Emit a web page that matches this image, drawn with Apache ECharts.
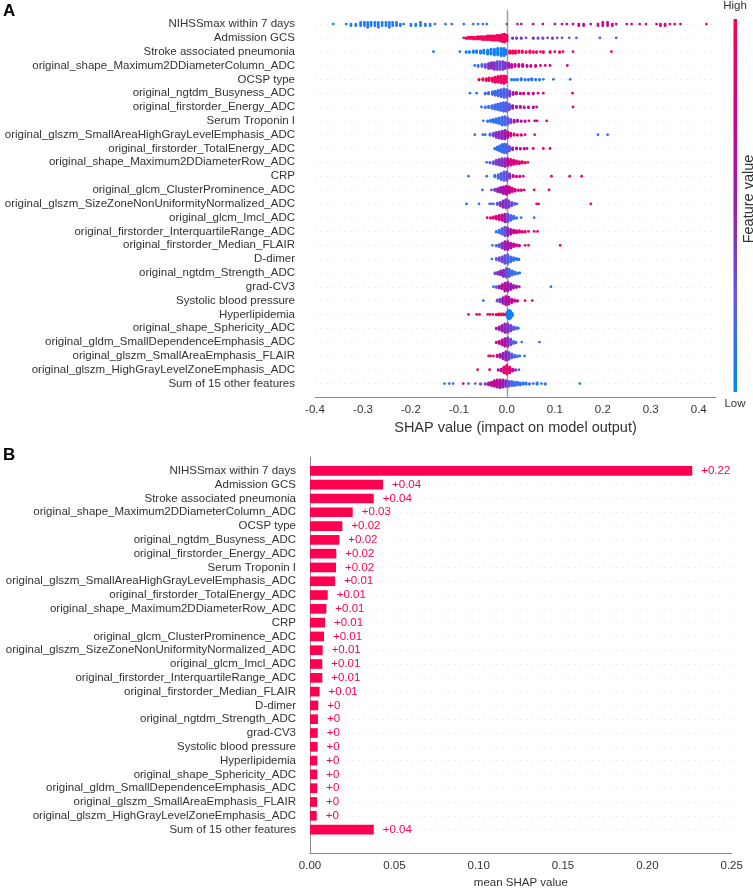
<!DOCTYPE html>
<html><head><meta charset="utf-8">
<script src="https://cdn.jsdelivr.net/npm/echarts@6/dist/echarts.min.js"></script>
<style>html,body{margin:0;padding:0;background:#fff}#c{width:753px;height:890px}</style>
</head><body><div id="c"></div>
<script>
const FONT = "'Liberation Sans', Arial, sans-serif";
const features = [
  "NIHSSmax within 7 days","Admission GCS","Stroke associated pneumonia",
  "original_shape_Maximum2DDiameterColumn_ADC","OCSP type","original_ngtdm_Busyness_ADC",
  "original_firstorder_Energy_ADC","Serum Troponin I","original_glszm_SmallAreaHighGrayLevelEmphasis_ADC",
  "original_firstorder_TotalEnergy_ADC","original_shape_Maximum2DDiameterRow_ADC","CRP",
  "original_glcm_ClusterProminence_ADC","original_glszm_SizeZoneNonUniformityNormalized_ADC","original_glcm_Imcl_ADC",
  "original_firstorder_InterquartileRange_ADC","original_firstorder_Median_FLAIR","D-dimer",
  "original_ngtdm_Strength_ADC","grad-CV3","Systolic blood pressure","Hyperlipidemia",
  "original_shape_Sphericity_ADC","original_gldm_SmallDependenceEmphasis_ADC","original_glszm_SmallAreaEmphasis_FLAIR",
  "original_glszm_HighGrayLevelZoneEmphasis_ADC","Sum of 15 other features"
];
// Panel B: mean |SHAP| values and their printed labels
const barValues = [0.2266,0.0433,0.0378,0.0253,0.0192,0.0174,0.0156,0.0154,0.0149,0.0105,0.0097,0.0089,0.0083,
  0.0075,0.0073,0.0073,0.0057,0.0049,0.0047,0.0046,0.0045,0.0043,0.0043,0.0043,0.0042,0.0040,0.0378];
const barLabels = ["+0.22","+0.04","+0.04","+0.03","+0.02","+0.02","+0.02","+0.02","+0.01","+0.01","+0.01","+0.01","+0.01",
  "+0.01","+0.01","+0.01","+0.01","+0","+0","+0","+0","+0","+0","+0","+0","+0","+0.04"];
const colorStops = ['#008bfb','#5f5ae6','#9a1bb4','#d2008c','#ff0051'];

// Panel A beeswarm: each entry [SHAP value, number of samples at that value, feature value 0(low)..1(high)]
const r0 = [[-0.362,1,.05],[-0.335,1,.05],[-0.325,2,.05],[-0.315,2,.1],[-0.305,3,.05],[-0.297,3,.1],[-0.29,4,.05],[-0.283,3,.1],
  [-0.275,3,.05],[-0.268,4,.1],[-0.26,3,.05],[-0.252,3,.1],[-0.245,4,.05],[-0.238,3,.1],[-0.23,3,.1],[-0.222,2,.05],[-0.215,1,.1],
  [-0.2,2,.1],[-0.19,2,.05],[-0.18,3,.1],[-0.17,2,.1],[-0.16,2,.1],[-0.15,1,.1],[-0.128,1,.1],[-0.115,1,.15],[-0.09,1,.1],
  [-0.07,1,.15],[-0.06,1,.1],[-0.05,1,.15],[-0.042,1,.15],[0.0,1,.3],[0.022,1,.6],[0.03,1,.6],[0.055,1,.55],[0.075,1,.6],
  [0.1,1,.65],[0.115,1,.7],[0.125,1,.7],[0.138,1,.7],[0.15,2,.75],[0.16,2,.75],[0.175,1,.8],[0.19,2,.7],[0.2,3,.75],[0.21,3,.7],
  [0.22,2,.8],[0.228,1,.8],[0.25,1,.85],[0.26,1,.85],[0.277,1,.85],[0.29,1,.85],[0.312,1,.85],[0.32,2,.9],[0.33,2,.8],
  [0.34,1,.85],[0.35,1,.9],[0.362,1,.9],[0.416,1,.95]];
const r1 = [[-0.09,1,.95],[-0.085,2,.95],[-0.08,3,.95],[-0.075,3,.95],[-0.07,4,.95],[-0.065,4,.95],[-0.06,5,.95],[-0.055,5,.95],
  [-0.05,6,.95],[-0.045,6,.95],[-0.04,7,.95],[-0.035,7,.95],[-0.03,8,.95],[-0.025,8,.95],[-0.02,9,.95],[-0.015,10,.95],
  [-0.01,12,.95],[-0.005,14,.9],[0.0,10,.9],[0.012,2,.45],[0.02,2,.4],[0.03,2,.4],[0.04,1,.35],[0.055,2,.4],[0.065,2,.3],
  [0.075,2,.35],[0.085,1,.3],[0.095,2,.35],[0.105,1,.3],[0.115,1,.3],[0.13,1,.25],[0.145,1,.3],[0.194,1,.3],[0.228,1,.35]];
const r2 = [[-0.153,1,.05],[-0.098,1,.05],[-0.085,2,.05],[-0.078,2,.05],[-0.07,3,.05],[-0.063,3,.05],[-0.055,4,.05],
  [-0.048,5,.05],[-0.04,6,.05],[-0.033,7,.05],[-0.026,8,.05],[-0.019,9,.05],[-0.012,10,.05],[-0.006,10,.05],[-0.002,6,.1],
  [0.006,4,.95],[0.012,4,.95],[0.018,4,.95],[0.025,3,.95],[0.032,3,.95],[0.04,2,.95],[0.048,3,.95],[0.055,2,.95],
  [0.062,2,.95],[0.07,1,.95],[0.076,2,.95],[0.09,2,.95],[0.1,1,.95],[0.11,2,.95],[0.117,1,.95],[0.138,1,.95],[0.218,1,.95]];
const r3 = [[-0.067,1,.1],[-0.06,2,.15],[-0.052,3,.2],[-0.045,4,.3],[-0.038,6,.4],[-0.032,7,.45],[-0.026,8,.4],[-0.02,9,.35],
  [-0.014,9,.3],[-0.008,9,.35],[-0.003,7,.4],[0.004,5,.6],[0.01,4,.65],[0.017,3,.7],[0.025,3,.7],[0.033,3,.75],[0.042,2,.7],
  [0.05,2,.75],[0.06,2,.7],[0.07,1,.8],[0.08,1,.75],[0.09,1,.8],[0.126,1,.85]];
const r4 = [[-0.058,2,.95],[-0.05,3,.95],[-0.043,4,.95],[-0.037,5,.95],[-0.03,6,.9],[-0.024,8,.95],[-0.018,9,.95],[-0.012,11,.95],
  [-0.006,12,.9],[-0.002,9,.9],[0.01,2,.1],[0.016,2,.1],[0.022,2,.1],[0.03,3,.1],[0.038,2,.1],[0.045,2,.1],[0.052,3,.1],
  [0.06,2,.1],[0.068,2,.1],[0.076,1,.1],[0.097,1,.1],[0.132,1,.1]];
const r5 = [[-0.077,1,.1],[-0.063,1,.1],[-0.045,2,.15],[-0.038,3,.2],[-0.03,5,.15],[-0.024,7,.2],[-0.018,9,.15],[-0.012,11,.2],
  [-0.006,13,.2],[0.0,12,.25],[0.006,8,.35],[0.013,4,.6],[0.02,3,.7],[0.028,2,.75],[0.035,2,.8],[0.045,2,.8],[0.055,2,.75],
  [0.065,1,.8],[0.076,1,.85],[0.137,1,.9]];
const r6 = [[-0.053,1,.1],[-0.045,2,.1],[-0.038,3,.15],[-0.031,5,.15],[-0.025,7,.2],[-0.019,9,.15],[-0.013,11,.2],[-0.007,13,.2],
  [-0.001,13,.25],[0.005,9,.3],[0.012,5,.55],[0.02,3,.6],[0.028,3,.65],[0.036,2,.7],[0.045,2,.65],[0.055,2,.7],[0.062,1,.75],
  [0.138,1,.85]];
const r7 = [[-0.049,1,.1],[-0.04,2,.1],[-0.034,3,.1],[-0.028,5,.15],[-0.022,7,.1],[-0.016,9,.15],[-0.01,12,.15],[-0.004,13,.2],
  [0.002,10,.25],[0.008,6,.35],[0.015,4,.5],[0.022,3,.55],[0.03,2,.6],[0.038,2,.65],[0.046,1,.7],[0.058,1,.75],[0.063,1,.75],
  [0.083,1,.7]];
const r8 = [[-0.067,1,.1],[-0.05,1,.1],[-0.045,1,.15],[-0.035,3,.2],[-0.028,5,.35],[-0.022,8,.4],[-0.016,10,.45],[-0.01,12,.45],
  [-0.004,13,.5],[0.002,9,.7],[0.008,5,.8],[0.015,3,.85],[0.022,2,.85],[0.03,2,.8],[0.038,1,.85],[0.058,1,.9],[0.19,1,.1],
  [0.21,1,.1]];
const r9 = [[-0.025,2,.1],[-0.02,5,.1],[-0.015,9,.15],[-0.01,13,.15],[-0.005,15,.2],[0.0,14,.2],[0.005,8,.3],[0.012,4,.5],
  [0.02,3,.6],[0.028,2,.65],[0.036,2,.7],[0.042,1,.7],[0.055,1,.8],[0.076,1,.8],[0.09,1,.85]];
const r10 = [[-0.042,1,.1],[-0.035,2,.2],[-0.028,4,.3],[-0.022,7,.35],[-0.016,9,.4],[-0.01,11,.4],[-0.004,12,.45],[0.002,11,.65],
  [0.008,9,.8],[0.014,7,.8],[0.02,5,.85],[0.026,4,.85],[0.032,3,.85],[0.038,2,.9],[0.044,1,.9]];
const r11 = [[-0.08,1,.1],[-0.042,1,.1],[-0.025,3,.15],[-0.018,6,.2],[-0.012,10,.2],[-0.006,13,.25],[0.0,13,.3],[0.006,7,.4],
  [0.013,3,.7],[0.02,2,.8],[0.027,2,.85],[0.034,1,.85],[0.093,1,.9],[0.131,1,.9],[0.156,1,.85]];
const r12 = [[-0.051,1,.2],[-0.032,1,.3],[-0.025,3,.4],[-0.019,6,.5],[-0.013,9,.55],[-0.007,12,.6],[-0.001,14,.65],[0.005,11,.7],
  [0.011,7,.75],[0.017,4,.8],[0.024,2,.85],[0.03,2,.8],[0.036,1,.85],[0.057,1,.9],[0.088,1,.9]];
const r13 = [[-0.084,1,.1],[-0.058,1,.1],[-0.036,1,.15],[-0.032,1,.2],[-0.028,1,.15],[-0.02,3,.3],[-0.014,6,.4],[-0.008,10,.45],
  [-0.002,13,.4],[0.004,10,.35],[0.01,6,.3],[0.016,3,.25],[0.021,1,.1],[0.062,1,.85],[0.066,1,.9],[0.175,1,.95]];
const r14 = [[-0.041,1,.9],[-0.034,2,.9],[-0.028,3,.85],[-0.022,5,.85],[-0.016,7,.8],[-0.01,9,.7],[-0.004,12,.5],[0.002,12,.3],
  [0.008,8,.2],[0.014,5,.15],[0.02,2,.1],[0.03,1,.1],[0.057,1,.1]];
const r15 = [[-0.022,2,.1],[-0.016,5,.15],[-0.01,9,.2],[-0.004,13,.3],[0.002,12,.45],[0.008,8,.6],[0.014,5,.75],[0.02,4,.8],
  [0.026,3,.85],[0.032,2,.85],[0.038,2,.9],[0.045,1,.85],[0.057,1,.9],[0.064,1,.9]];
const r16 = [[-0.03,1,.1],[-0.022,2,.2],[-0.016,4,.3],[-0.01,8,.4],[-0.004,12,.5],[0.002,12,.55],[0.008,8,.6],[0.014,5,.7],
  [0.02,3,.75],[0.026,2,.8],[0.038,1,.85],[0.045,1,.9],[0.111,1,.9]];
const r17 = [[-0.031,1,.1],[-0.022,3,.2],[-0.016,5,.3],[-0.01,8,.35],[-0.004,12,.3],[0.002,13,.2],[0.008,8,.15],[0.014,5,.15],
  [0.02,3,.1],[0.025,2,.1]];
const r18 = [[-0.025,2,.3],[-0.019,4,.4],[-0.013,7,.45],[-0.007,10,.4],[-0.001,13,.3],[0.005,11,.2],[0.011,7,.15],[0.017,4,.15],
  [0.023,2,.1],[0.027,1,.1]];
const r19 = [[-0.028,1,.1],[-0.022,2,.3],[-0.016,4,.5],[-0.01,7,.6],[-0.004,12,.65],[0.002,13,.55],[0.008,9,.5],[0.014,5,.5],
  [0.02,3,.6],[0.026,1,.5],[0.092,1,.1]];
const r20 = [[-0.049,1,.1],[-0.02,3,.3],[-0.014,5,.4],[-0.008,9,.5],[-0.002,13,.6],[0.004,11,.6],[0.01,6,.65],[0.016,3,.7],
  [0.022,2,.75],[0.038,1,.9],[0.053,1,.9]];
const r21 = [[-0.08,1,.95],[-0.063,1,.95],[-0.057,1,.95],[-0.04,1,.95],[-0.035,1,.95],[-0.029,1,.95],[-0.022,2,.95],[-0.017,3,.95],
  [-0.012,3,.95],[-0.007,3,.95],[-0.002,3,.9],[0.002,14,.05],[0.005,18,.05],[0.008,14,.05],[0.011,6,.05]];
const r22 = [[-0.022,2,.5],[-0.016,5,.55],[-0.01,9,.5],[-0.004,13,.45],[0.002,13,.4],[0.008,9,.35],[0.014,5,.3],[0.02,3,.2],
  [0.024,1,.1]];
const r23 = [[-0.022,2,.6],[-0.016,4,.65],[-0.01,8,.7],[-0.004,12,.6],[0.002,13,.45],[0.008,9,.3],[0.014,4,.2],[0.019,2,.15],
  [0.031,1,.1],[0.068,1,.1]];
const r24 = [[-0.038,1,.9],[-0.034,1,.85],[-0.028,1,.9],[-0.02,3,.7],[-0.014,5,.6],[-0.008,9,.5],[-0.002,13,.45],[0.004,11,.35],
  [0.01,7,.25],[0.016,4,.2],[0.022,2,.1],[0.027,1,.1],[0.037,1,.1]];
const r25 = [[-0.061,1,.9],[-0.036,1,.85],[-0.018,2,.5],[-0.012,4,.7],[-0.006,10,.85],[0.0,15,.9],[0.006,10,.85],[0.012,4,.7],
  [0.018,2,.4],[0.025,1,.2]];
const r26 = [[-0.13,1,.1],[-0.12,1,.15],[-0.112,1,.1],[-0.091,1,.85],[-0.08,1,.2],[-0.066,1,.15],[-0.055,2,.3],[-0.045,2,.4],
  [-0.038,4,.6],[-0.032,6,.65],[-0.026,9,.7],[-0.02,11,.65],[-0.014,12,.6],[-0.008,11,.5],[-0.002,9,.4],[0.004,8,.3],
  [0.01,7,.2],[0.016,6,.15],[0.022,5,.15],[0.028,4,.1],[0.034,3,.1],[0.04,3,.1],[0.047,2,.15],[0.055,1,.2],[0.063,3,.1],
  [0.072,1,.1],[0.08,2,.15],[0.152,1,.1]];
const beeswarmRows = [r0,r1,r2,r3,r4,r5,r6,r7,r8,r9,r10,r11,r12,r13,r14,r15,r16,r17,r18,r19,r20,r21,r22,r23,r24,r25,r26];

// SHAP-style beeswarm layout (100 bins per row, alternate stacking)
function swarmOffsets(vals) {
  const N = vals.length;
  const mn = Math.min(...vals), mx = Math.max(...vals);
  const quant = vals.map(v => Math.round(100 * (v - mn) / (mx - mn + 1e-8)));
  const inds = vals.map((_, i) => i).sort((a, b) => quant[a] - quant[b] || a - b);
  const ys = new Array(N).fill(0);
  let layer = 0, last = -1;
  for (const ind of inds) {
    if (quant[ind] !== last) layer = 0;
    ys[ind] = Math.ceil(layer / 2) * ((layer % 2) * 2 - 1);
    layer++; last = quant[ind];
  }
  const m = Math.max(...ys.map(y => y + 1));
  return ys.map(y => y * 0.9 * (0.4 / m));
}
const points = [];
beeswarmRows.forEach((row, r) => {
  const vals = [], fvs = [];
  row.forEach(([v, n, f]) => { for (let k = 0; k < n; k++) { vals.push(v); fvs.push(f); } });
  const off = swarmOffsets(vals);
  vals.forEach((v, k) => points.push([v, r + off[k], fvs[k]]));
});

const rowIdx = features.map((_, i) => i);
const labelFmt = v => (Number.isInteger(v) && v >= 0 && v < features.length) ? features[v] : '';
const axisTxt = { color: '#333', fontSize: 11.5, fontFamily: FONT };

const chart = echarts.init(document.getElementById('c'), null, { renderer: 'canvas' });
chart.setOption({
  animation: false,
  backgroundColor: '#fff',
  textStyle: { fontFamily: FONT },
  grid: [
    { left: 315, top: 10.2, width: 401, height: 387.2 },
    { left: 310, top: 457.1, width: 421.7, height: 398 }
  ],
  xAxis: [
    { gridIndex: 0, type: 'value', min: -0.4, max: 0.436, interval: 0.1,
      axisLine: { show: true, onZero: false, lineStyle: { color: '#888', width: 1 } },
      axisTick: { show: false }, splitLine: { show: false },
      axisLabel: Object.assign({ margin: 6, formatter: v => {
        const t = Math.round(v * 10); if (Math.abs(v * 10 - t) > 1e-6) return '';
        return (t / 10).toFixed(1).replace('-0.0', '0.0'); } }, axisTxt),
      name: 'SHAP value (impact on model output)', nameLocation: 'middle', nameGap: 23,
      nameTextStyle: { color: '#333', fontSize: 14.5, fontFamily: FONT } },
    { gridIndex: 1, type: 'value', min: 0, max: 0.25, interval: 0.05,
      axisLine: { show: true, onZero: false, lineStyle: { color: '#888', width: 1 } },
      axisTick: { show: false }, splitLine: { show: false },
      axisLabel: Object.assign({ margin: 7, formatter: v => v.toFixed(2) }, axisTxt),
      name: 'mean SHAP value', nameLocation: 'middle', nameGap: 24,
      nameTextStyle: { color: '#333', fontSize: 11.5, fontFamily: FONT } }
  ],
  yAxis: [
    { gridIndex: 0, type: 'value', min: -1, max: 27, interval: 1, inverse: true,
      axisLine: { show: false }, axisTick: { show: false }, splitLine: { show: false },
      axisLabel: Object.assign({ margin: 20, formatter: labelFmt }, axisTxt) },
    { gridIndex: 1, type: 'value', min: -1, max: 27.7, interval: 1, inverse: true,
      axisLine: { show: true, onZero: false, lineStyle: { color: '#888', width: 1 } },
      axisTick: { show: false }, splitLine: { show: false },
      axisLabel: Object.assign({ margin: 14, formatter: labelFmt }, axisTxt) }
  ],
  visualMap: { type: 'continuous', show: false, seriesIndex: 2, dimension: 2, min: 0, max: 1,
    inRange: { color: colorStops } },
  series: [
    { type: 'line', xAxisIndex: 0, yAxisIndex: 0, data: [], z: 1, silent: true,
      markLine: { silent: true, z: 1, symbol: 'none', label: { show: false }, animation: false,
        data: rowIdx.map(i => ({ yAxis: i, lineStyle: { color: '#d0d0d0', width: 0.6, type: [1, 5] } }))
          .concat([{ xAxis: 0, lineStyle: { color: '#999999', width: 1.4, type: 'solid' } }]) } },
    { type: 'line', xAxisIndex: 1, yAxisIndex: 1, data: [], z: 1, silent: true,
      markLine: { silent: true, z: 1, symbol: 'none', label: { show: false }, animation: false,
        data: rowIdx.map(i => ({ yAxis: i, lineStyle: { color: '#d0d0d0', width: 0.6, type: [1, 5] } })) } },
    { type: 'scatter', xAxisIndex: 0, yAxisIndex: 0, data: points, symbolSize: 2.8, z: 4,
      itemStyle: { opacity: 1 }, large: false },
    { type: 'custom', xAxisIndex: 1, yAxisIndex: 1, z: 4,
      data: barValues.map((v, i) => [v, i]),
      renderItem: (params, api) => {
        const v = api.value(0), i = api.value(1);
        const p0 = api.coord([0, i]), p1 = api.coord([v, i]);
        const h = api.size([0, 0.7])[1];
        return { type: 'group', children: [
          { type: 'rect', shape: { x: p0[0], y: p0[1] - h / 2, width: p1[0] - p0[0], height: h },
            style: { fill: '#ff0051' } },
          { type: 'text', x: p1[0] + 9, y: p1[1],
            style: { text: barLabels[i], fill: '#ff0051', font: '11.5px ' + FONT, align: 'left', verticalAlign: 'middle' } }
        ] };
      } }
  ],
  graphic: [
    { type: 'text', left: 3, top: 3, style: { text: 'A', font: 'bold 17px ' + FONT, fill: '#000' } },
    { type: 'text', left: 3, top: 447, style: { text: 'B', font: 'bold 17px ' + FONT, fill: '#000' } },
    { type: 'rect', shape: { x: 733.5, y: 19, width: 3.5, height: 373 },
      style: { fill: new echarts.graphic.LinearGradient(0, 1, 0, 0,
        colorStops.map((c, k) => ({ offset: k / (colorStops.length - 1), color: c }))) } },
    { type: 'text', x: 735, y: 6, style: { text: 'High', font: '11.5px ' + FONT, fill: '#333', align: 'center', verticalAlign: 'middle' } },
    { type: 'text', x: 735, y: 404, style: { text: 'Low', font: '11.5px ' + FONT, fill: '#333', align: 'center', verticalAlign: 'middle' } },
    { type: 'text', x: 748.5, y: 199, rotation: Math.PI / 2,
      style: { text: 'Feature value', font: '14.5px ' + FONT, fill: '#333', align: 'center', verticalAlign: 'middle' } }
  ]
});
</script></body></html>
